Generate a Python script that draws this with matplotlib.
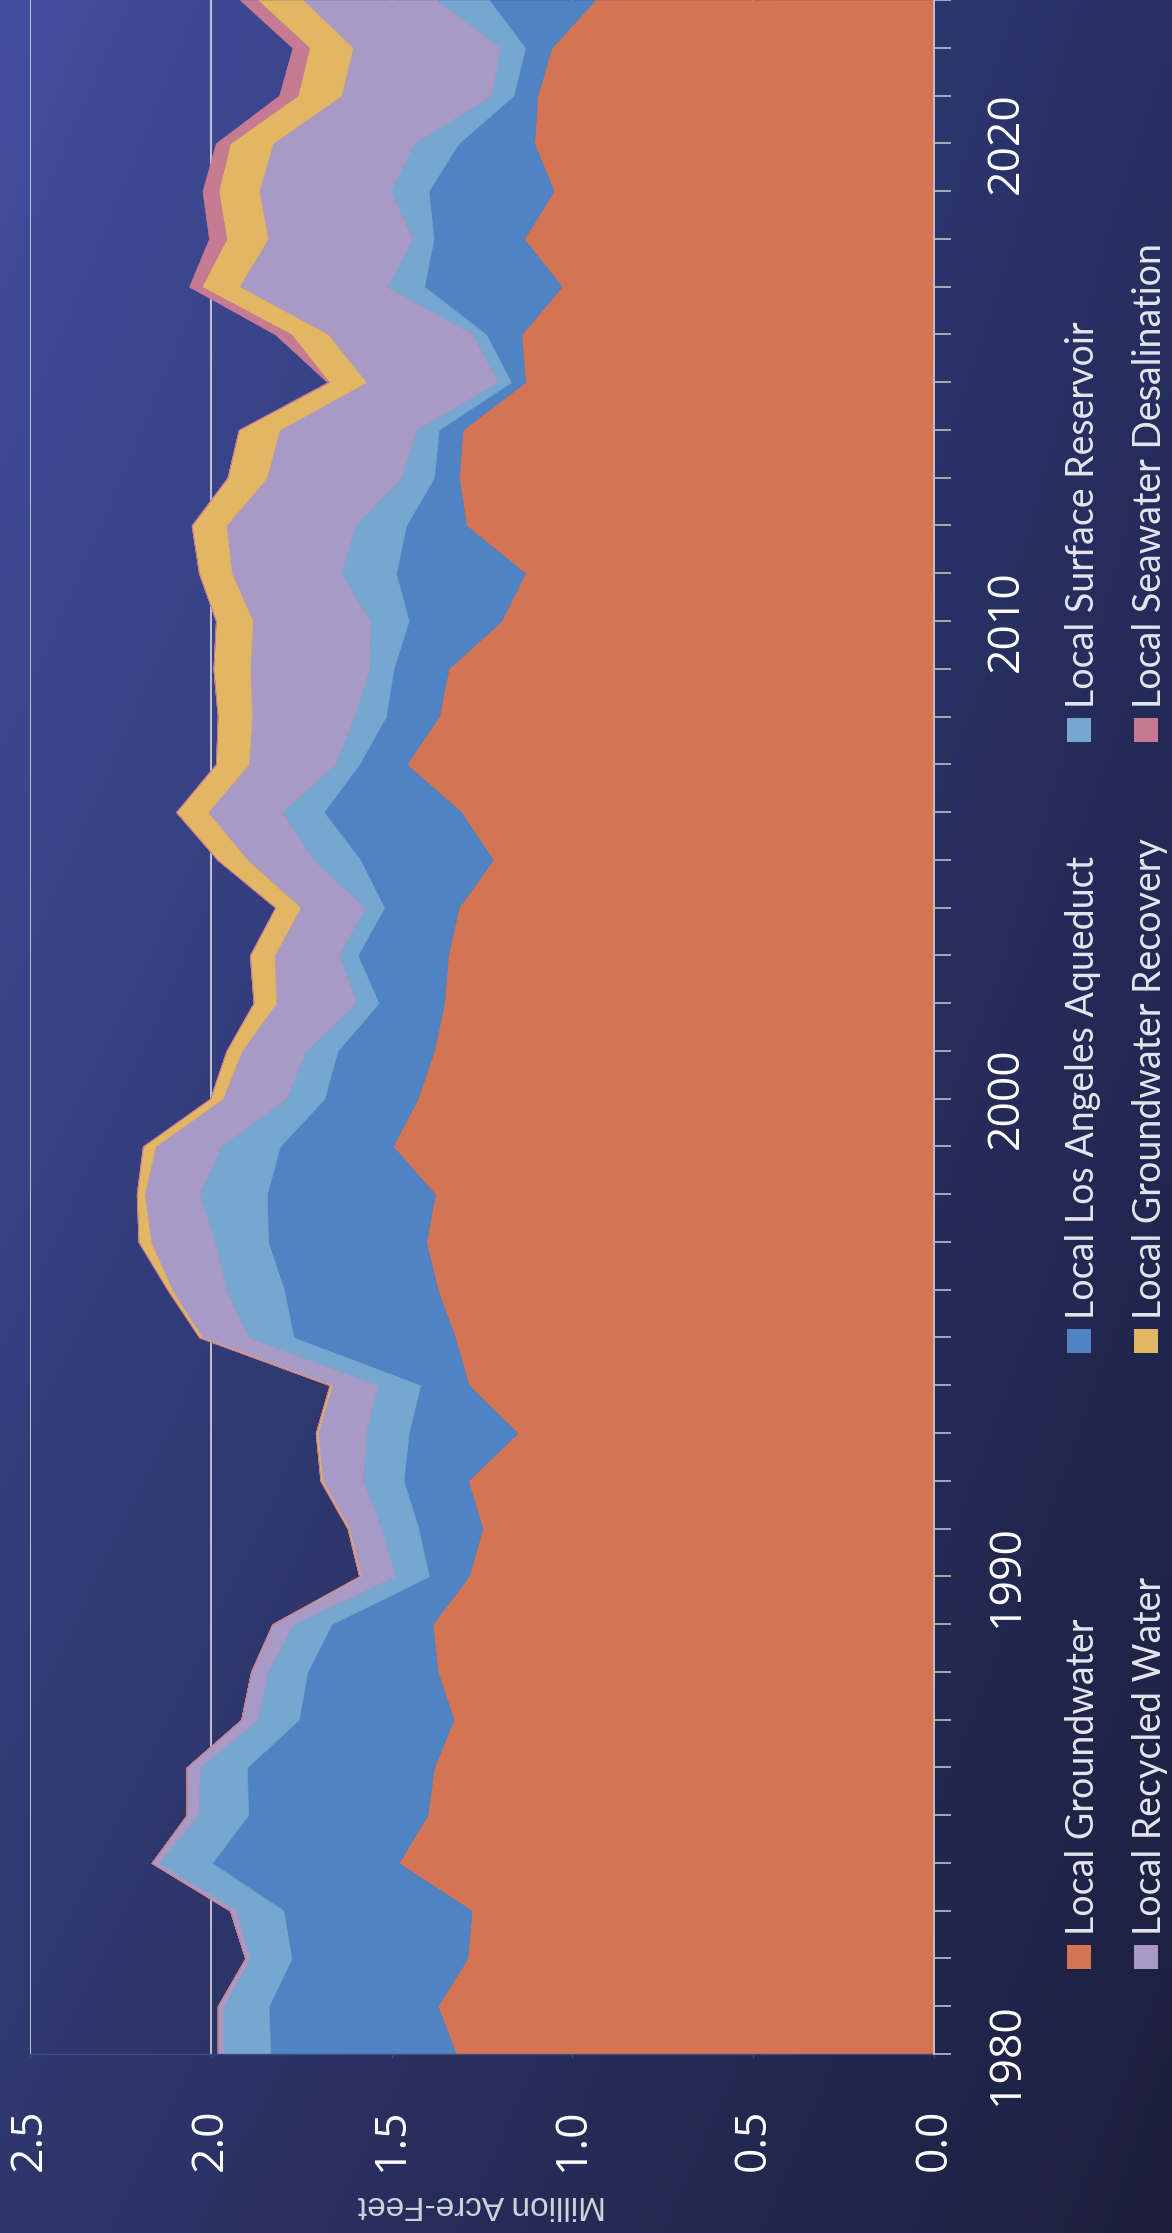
import numpy as np
import matplotlib.pyplot as plt
from matplotlib.patches import Rectangle
from matplotlib.ticker import FixedLocator

years = list(range(1980, 2024))

groundwater = [1.322, 1.373, 1.291, 1.279, 1.481, 1.401, 1.383, 1.329, 1.373, 1.387,
               1.287, 1.249, 1.289, 1.152, 1.287, 1.325, 1.373, 1.405, 1.380, 1.497,
               1.428, 1.383, 1.355, 1.344, 1.315, 1.220, 1.308, 1.459, 1.369, 1.343,
               1.197, 1.131, 1.294, 1.314, 1.304, 1.131, 1.141, 1.030, 1.134, 1.052,
               1.106, 1.097, 1.058, 0.938]
la_aqueduct = [0.514, 0.467, 0.486, 0.520, 0.516, 0.496, 0.517, 0.428, 0.360, 0.279,
               0.110, 0.177, 0.178, 0.301, 0.134, 0.446, 0.425, 0.437, 0.465, 0.312,
               0.258, 0.267, 0.181, 0.250, 0.206, 0.367, 0.380, 0.131, 0.147, 0.152,
               0.256, 0.357, 0.166, 0.069, 0.066, 0.039, 0.098, 0.380, 0.250, 0.346,
               0.209, 0.066, 0.073, 0.293]
surface_reservoir = [0.129, 0.125, 0.115, 0.131, 0.148, 0.138, 0.130, 0.114, 0.110, 0.105,
                     0.094, 0.103, 0.112, 0.118, 0.118, 0.126, 0.160, 0.147, 0.187, 0.165,
                     0.106, 0.087, 0.062, 0.052, 0.053, 0.130, 0.116, 0.067, 0.088, 0.067,
                     0.107, 0.152, 0.141, 0.091, 0.063, 0.037, 0.037, 0.104, 0.058, 0.106,
                     0.123, 0.062, 0.069, 0.146]
recycled_water = [0.016, 0.016, 0.013, 0.017, 0.019, 0.032, 0.037, 0.045, 0.046, 0.058,
                  0.096, 0.089, 0.113, 0.134, 0.127, 0.128, 0.150, 0.177, 0.152, 0.180,
                  0.176, 0.178, 0.222, 0.179, 0.179, 0.183, 0.205, 0.239, 0.283, 0.330,
                  0.325, 0.303, 0.357, 0.372, 0.378, 0.364, 0.401, 0.408, 0.401, 0.363,
                  0.391, 0.415, 0.408, 0.369]
gw_recovery = [0.0, 0.0, 0.0, 0.0, 0.0, 0.0, 0.0, 0.0, 0.0, 0.001,
               0.003, 0.004, 0.005, 0.005, 0.006, 0.007, 0.012, 0.034, 0.021, 0.034,
               0.034, 0.042, 0.062, 0.067, 0.069, 0.082, 0.087, 0.090, 0.094, 0.101,
               0.101, 0.090, 0.095, 0.108, 0.112, 0.102, 0.101, 0.104, 0.114, 0.112,
               0.118, 0.120, 0.120, 0.125]
desalination = [0.0] * 35 + [0.005, 0.044, 0.034, 0.048, 0.044, 0.039, 0.051, 0.046, 0.048]

series_names = ['Local Groundwater', 'Local Los Angeles Aqueduct', 'Local Surface Reservoir',
                'Local Recycled Water', 'Local Groundwater Recovery', 'Local Seawater Desalination']
colors = ['#D47453', '#4F83C3', '#76A7D0', '#A89AC4', '#E2B663', '#C77B92']
series = [groundwater, la_aqueduct, surface_reservoir, recycled_water, gw_recovery, desalination]

W, H = 1172, 2233
fig = plt.figure(figsize=(W / 100, H / 100), dpi=100)

# background gradient (bilinear between the four corners)
bg = fig.add_axes([0, 0, 1, 1], zorder=-10)
tl = np.array([66, 78, 158]) / 255
tr = np.array([40, 48, 100]) / 255
bl = np.array([46, 54, 108]) / 255
br = np.array([28, 31, 62]) / 255
u = np.linspace(0, 1, 120)[None, :, None]
v = np.linspace(0, 1, 240)[:, None, None]
img = (1 - u) * (1 - v) * tl + u * (1 - v) * tr + (1 - u) * v * bl + u * v * br
bg.imshow(img, aspect='auto', extent=[0, 1, 0, 1], interpolation='bilinear')
bg.axis('off')

# chart is drawn turned on its side: values run right-to-left, years bottom-to-top
ax = fig.add_axes([30 / W, 179 / H, 904 / W, 2054 / H])
ax.patch.set_alpha(0)
base = np.zeros(len(years))
for vals, c in zip(series, colors):
    top = base + np.array(vals)
    ax.fill_betweenx(years, base, top, facecolor=c, edgecolor=c, lw=0.5, zorder=2)
    base = top

ax.set_xlim(2.5, 0)
ax.set_ylim(1980, 2023)

ax.set_xticks([0, 0.5, 1.0, 1.5, 2.0, 2.5])
ax.set_xticklabels(['0.0', '0.5', '1.0', '1.5', '2.0', '2.5'])
ax.grid(axis='x', color='#D9D9D9', lw=1.2, zorder=0)
ax.set_axisbelow(True)
ax.tick_params(axis='x', direction='out', length=3, width=1, color='#3A4C80',
               labelsize=32, labelcolor='white', labelrotation=90, pad=36)

ax.yaxis.tick_right()
ax.yaxis.set_major_locator(FixedLocator([1980, 1990, 2000, 2010, 2020]))
ax.yaxis.set_minor_locator(FixedLocator(years))
ax.tick_params(axis='y', which='both', direction='out', length=12, width=1.2,
               color='#BFBFBF', labelsize=32, labelcolor='white', labelrotation=90, pad=24)
for lbl in ax.get_yticklabels() + ax.get_xticklabels():
    lbl.set_fontfamily('Open Sans')
for lbl in ax.get_yticklabels():
    lbl.set_va('center')

for s in ['top', 'left']:
    ax.spines[s].set_visible(False)
ax.spines['right'].set_color('#BFBFBF')
ax.spines['right'].set_linewidth(1.4)
ax.spines['right'].set_zorder(5)
ax.spines['bottom'].set_color('#3A4C80')
ax.spines['bottom'].set_linewidth(1)

fig.text(482 / W, 1 - 2204 / H, 'Million Acre-Feet', rotation=180, ha='center', va='center',
         fontsize=24, color='#D0D2DC', family=['Liberation Sans Narrow', 'Liberation Sans'])

# legend, turned like the rest of the chart
legend_cols = [1083, 1083, 1083, 1150, 1150, 1150]
legend_rows = [1957, 1341, 730, 1957, 1341, 730]
sq_x = [1079, 1079, 1079, 1146, 1146, 1146]
for name, c, tx, sy, sx in zip(series_names, colors, legend_cols, legend_rows, sq_x):
    fig.patches.append(Rectangle(((sx - 12) / W, 1 - (sy + 12) / H), 24 / W, 24 / H,
                                 transform=fig.transFigure, facecolor=c, edgecolor='none'))
    fig.text(tx / W, 1 - (sy - 22) / H, name, rotation=90, ha='center', va='bottom',
             fontsize=27, color='#E4E6EE', family='Lato')

fig.savefig('out.png', dpi=100)
